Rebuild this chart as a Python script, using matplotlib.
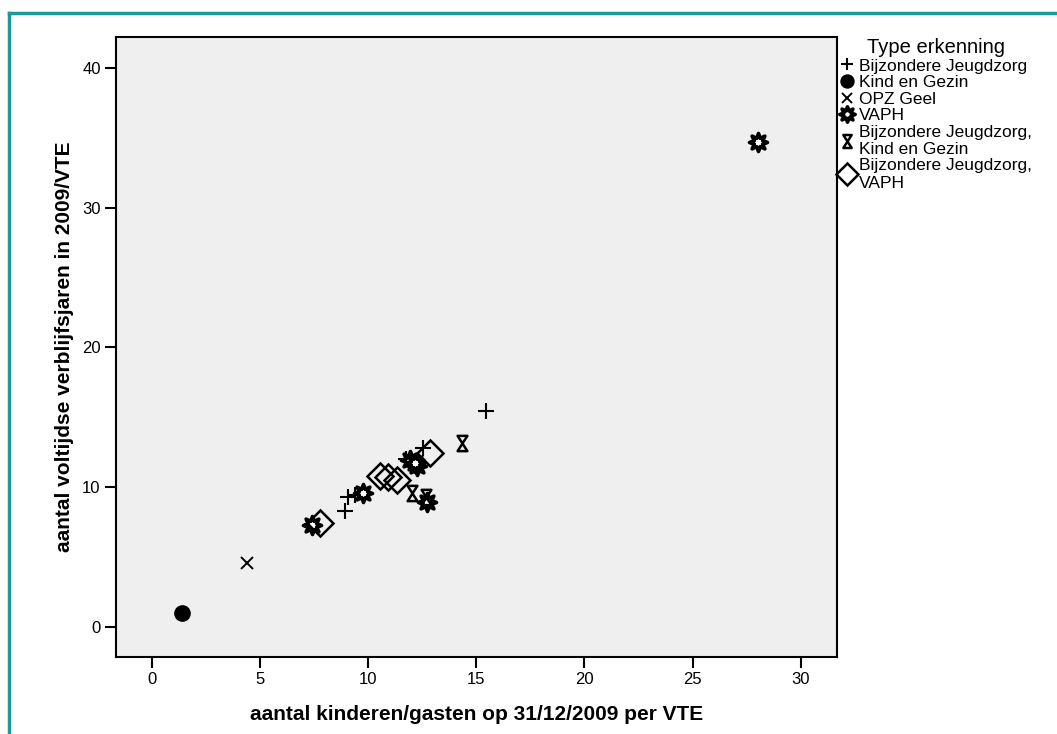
import numpy as np
import matplotlib
matplotlib.use("Agg")
import matplotlib.pyplot as plt
from matplotlib.path import Path
from matplotlib.lines import Line2D

plt.rcParams['font.family'] = ['Liberation Sans', 'DejaVu Sans']

# Data per type erkenning (x = kinderen/gasten per VTE, y = voltijdse verblijfsjaren per VTE)
bjz_x = [15.44, 12.55, 11.77, 9.08, 9.38, 8.92]
bjz_y = [15.46, 12.78, 12.00, 9.33, 9.45, 8.30]

keg_x = [1.39]
keg_y = [1.00]

opz_x = [4.39]
opz_y = [4.58]

vaph_x = [28.02, 11.93, 12.24, 12.16, 12.70, 9.74, 7.38]
vaph_y = [34.70, 11.95, 11.52, 11.70, 8.97, 9.57, 7.30]

bjz_keg_x = [14.33, 12.04, 12.65]
bjz_keg_y = [13.17, 9.57, 9.33]

bjz_vaph_x = [12.88, 10.54, 10.93, 11.31, 7.77]
bjz_vaph_y = [12.47, 10.80, 10.71, 10.52, 7.47]

labels = ["Bijzondere Jeugdzorg", "Kind en Gezin", "OPZ Geel", "VAPH",
          "Bijzondere Jeugdzorg,\nKind en Gezin", "Bijzondere Jeugdzorg,\nVAPH"]

# zandloper marker
hourglass = Path([(-0.32, 0.5), (0.32, 0.5), (-0.32, -0.5), (0.32, -0.5), (-0.32, 0.5)],
                 [Path.MOVETO, Path.LINETO, Path.LINETO, Path.LINETO, Path.CLOSEPOLY])

# ster met 8 punten, spitse punten
ang = np.arange(16) * np.pi / 8 + np.pi / 2
rad = np.where(np.arange(16) % 2 == 0, 1.0, 0.5)
star_pts = np.column_stack([rad * np.cos(ang), rad * np.sin(ang)])
star = Path(np.vstack([star_pts, star_pts[:1]]), closed=True)

styles = [
    dict(marker='+', ms=11, mew=1.5, mfc='none', mec='black'),
    dict(marker='o', ms=11, mew=1, mfc='black', mec='black'),
    dict(marker='x', ms=9, mew=1.4, mfc='none', mec='black'),
    dict(marker=star, ms=13, mew=2.6, mfc='white', mec='black'),
    dict(marker=hourglass, ms=11, mew=1.8, mfc='none', mec='black'),
    dict(marker='D', ms=13, mew=1.8, mfc='none', mec='black'),
]

series = [(bjz_x, bjz_y), (keg_x, keg_y), (opz_x, opz_y),
          (vaph_x, vaph_y), (bjz_keg_x, bjz_keg_y), (bjz_vaph_x, bjz_vaph_y)]

fig = plt.figure(figsize=(10.57, 7.34), dpi=100)
ax = fig.add_axes([0.1097, 0.1049, 0.6821, 0.8447])
ax.set_facecolor('#eeefee')

for (xs, ys), st, lab in zip(series, styles, labels):
    ax.plot(xs, ys, linestyle='none', label=lab, **st)

ax.set_xlim(-1.66, 31.67)
ax.set_ylim(-2.15, 42.2)
ax.set_xticks([0, 5, 10, 15, 20, 25, 30])
ax.set_yticks([0, 10, 20, 30, 40])
ax.tick_params(direction='out', length=8, width=1.5, labelsize=12, pad=3)
for sp in ax.spines.values():
    sp.set_linewidth(1.5)

ax.set_xlabel("aantal kinderen/gasten op 31/12/2009 per VTE", fontsize=15, fontweight='bold', labelpad=13)
ax.set_ylabel("aantal voltijdse verblijfsjaren in 2009/VTE", fontsize=15, fontweight='bold', labelpad=6)

# legenda rechts naast de grafiek
handles = [Line2D([], [], linestyle='none', **dict(st, ms=st['ms'] * 0.85)) for st in styles]
leg = fig.legend(handles, labels, loc='upper left', bbox_to_anchor=(0.791, 0.953),
                 frameon=False, title="Type erkenning", title_fontsize=14.5, fontsize=12.5,
                 handlelength=0.9, handletextpad=0.2, labelspacing=0.08, borderaxespad=0,
                 borderpad=0.2)

# teal kader
fig.add_artist(Line2D([9 / 1057, 9 / 1057], [0, 1 - 13 / 734], color='#1e9a96', lw=2.5))
fig.add_artist(Line2D([9 / 1057, 1], [1 - 13 / 734, 1 - 13 / 734], color='#1e9a96', lw=2.5))

fig.savefig("out.png", dpi=100)
